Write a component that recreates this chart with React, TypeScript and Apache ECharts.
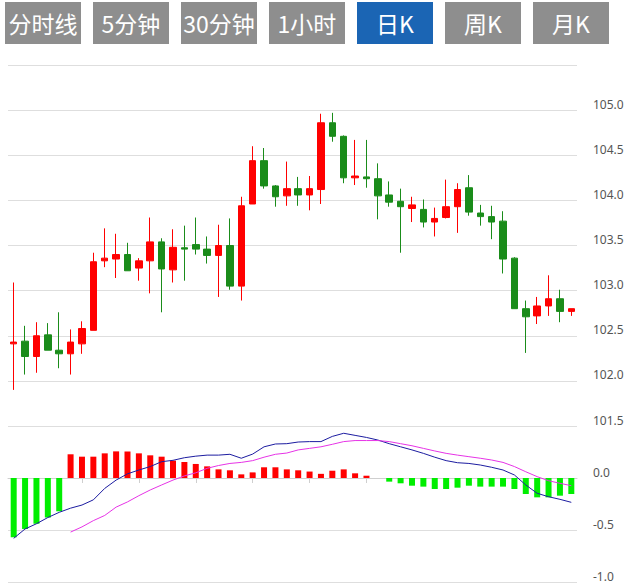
import React, { useEffect, useRef } from "react";
import * as echarts from "echarts";

const buttonLabels = ["分时线", "5分钟", "30分钟", "1小时", "日K", "周K", "月K"];
const activeButton = 4;

// [open, close, low, high]
const ohlc: number[][] = [
  [102.41, 102.43, 101.9, 103.09],
  [102.44, 102.27, 102.07, 102.61],
  [102.27, 102.5, 102.09, 102.65],
  [102.51, 102.34, 102.34, 102.64],
  [102.34, 102.3, 102.14, 102.76],
  [102.3, 102.43, 102.07, 102.57],
  [102.41, 102.58, 102.3, 102.66],
  [102.56, 103.32, 102.56, 103.42],
  [103.33, 103.36, 103.26, 103.69],
  [103.35, 103.4, 103.14, 103.63],
  [103.4, 103.22, 103.22, 103.53],
  [103.25, 103.33, 103.11, 103.36],
  [103.33, 103.54, 102.97, 103.81],
  [103.54, 103.24, 102.76, 103.58],
  [103.23, 103.48, 103.09, 103.68],
  [103.475, 103.46, 103.11, 103.72],
  [103.51, 103.46, 103.4, 103.81],
  [103.46, 103.39, 103.3, 103.6],
  [103.39, 103.5, 102.93, 103.73],
  [103.5, 103.05, 103.01, 103.8],
  [103.05, 103.94, 102.89, 104.04],
  [103.96, 104.44, 103.96, 104.6],
  [104.44, 104.16, 104.13, 104.58],
  [104.16, 104.04, 103.93, 104.17],
  [104.05, 104.13, 103.94, 104.43],
  [104.13, 104.06, 103.94, 104.26],
  [104.06, 104.13, 103.89, 104.27],
  [104.12, 104.86, 103.96, 104.96],
  [104.86, 104.71, 104.65, 104.97],
  [104.71, 104.25, 104.19, 104.72],
  [104.25, 104.27, 104.17, 104.67],
  [104.26, 104.24, 104.14, 104.67],
  [104.24, 104.05, 103.79, 104.41],
  [104.06, 103.98, 103.93, 104.21],
  [103.99, 103.93, 103.42, 104.13],
  [103.91, 103.95, 103.76, 104.04],
  [103.9, 103.76, 103.7, 104.01],
  [103.76, 103.8, 103.6, 103.92],
  [103.81, 103.93, 103.8, 104.23],
  [103.93, 104.12, 103.64, 104.19],
  [104.14, 103.87, 103.83, 104.28],
  [103.86, 103.82, 103.72, 103.95],
  [103.82, 103.76, 103.57, 103.94],
  [103.77, 103.35, 103.19, 103.88],
  [103.36, 102.8, 102.8, 103.37],
  [102.8, 102.71, 102.31, 102.89],
  [102.72, 102.83, 102.63, 102.93],
  [102.83, 102.91, 102.72, 103.17],
  [102.91, 102.77, 102.65, 103.01],
  [102.77, 102.8, 102.72, 102.8],
];

const macdHist = [
  -0.57, -0.49, -0.44, -0.38, -0.32, 0.228, 0.205, 0.205, 0.237, 0.256,
  0.256, 0.237, 0.218, 0.205, 0.167, 0.154, 0.135, 0.112, 0.083, 0.074,
  0.035, 0.054, 0.103, 0.103, 0.083, 0.074, 0.062, 0.04, 0.07, 0.083,
  0.045, 0.022, 0, -0.035, -0.051, -0.074, -0.083, -0.106, -0.106, -0.093,
  -0.074, -0.083, -0.083, -0.083, -0.106, -0.154, -0.186, -0.186, -0.17, -0.154,
];

const dif = [
  -0.58, -0.49, -0.44, -0.38, -0.33, -0.29, -0.26, -0.21, -0.1, -0.02,
  0.04, 0.077, 0.11, 0.157, 0.17, 0.195, 0.21, 0.22, 0.22, 0.228,
  0.19, 0.23, 0.3, 0.327, 0.33, 0.346, 0.35, 0.35, 0.4, 0.43,
  0.41, 0.39, 0.365, 0.33, 0.3, 0.27, 0.237, 0.2, 0.167, 0.147,
  0.14, 0.125, 0.103, 0.077, 0.029, -0.067, -0.147, -0.18, -0.205, -0.234,
];

const dea = [
  null, null, null, null, null, -0.52, -0.47, -0.41, -0.36, -0.28,
  -0.23, -0.17, -0.115, -0.067, -0.02, 0.02, 0.05, 0.093, 0.12, 0.14,
  0.15, 0.167, 0.2, 0.228, 0.24, 0.27, 0.285, 0.3, 0.324, 0.35,
  0.36, 0.36, 0.36, 0.35, 0.33, 0.31, 0.285, 0.26, 0.237, 0.22,
  0.205, 0.19, 0.173, 0.15, 0.11, 0.06, 0.013, -0.026, -0.051, -0.074,
];

const categories = ohlc.map((_, i) => String(i + 1));

export default function App() {
  const ref = useRef<HTMLDivElement>(null);
  useEffect(() => {
    if (!ref.current) return;
    const chart = echarts.init(ref.current, null, { renderer: "svg" });
    const gridLine = { show: true, lineStyle: { color: "#dedede", width: 1 } };
    const labelStyle = {
      color: "#555",
      fontSize: 12,
      fontFamily: "Noto Sans",
      margin: 16,
      verticalAlign: "bottom" as const,
      formatter: (v: number) => v.toFixed(1),
      showMaxLabel: false,
      showMinLabel: true,
    };
    const graphic: any[] = [];
    buttonLabels.forEach((t, i) => {
      const x = 5 + i * 88;
      graphic.push({
        type: "rect",
        shape: { x, y: 2, width: 76, height: 42 },
        style: { fill: i === activeButton ? "#1b65b4" : "#8e8e8e" },
      });
      graphic.push({
        type: "text",
        style: {
          text: t,
          x: x + 38,
          y: 23,
          align: "center",
          verticalAlign: "middle",
          fill: "#ffffff",
          fontSize: 23,
          fontFamily: "Noto Sans CJK SC",
        },
      });
    });
    chart.setOption({
      animation: false,
      backgroundColor: "#ffffff",
      graphic,
      grid: [
        { left: 8, right: 56, top: 65, height: 361 },
        { left: 8, right: 56, top: 426, height: 156 },
      ],
      xAxis: [
        {
          type: "category",
          gridIndex: 0,
          data: categories,
          boundaryGap: true,
          axisLine: { show: false },
          axisTick: { show: false },
          axisLabel: { show: false },
          splitLine: { show: false },
        },
        {
          type: "category",
          gridIndex: 1,
          data: categories,
          boundaryGap: true,
          axisLine: { show: true, lineStyle: { color: "#cfcfcf" } },
          axisTick: {
            show: true,
            alignWithLabel: true,
            interval: (i: number) => i % 5 === 1,
            length: 5,
            lineStyle: { color: "#cfcfcf" },
          },
          axisLabel: { show: false },
          splitLine: { show: false },
        },
      ],
      yAxis: [
        {
          type: "value",
          gridIndex: 0,
          position: "right",
          min: 101.5,
          max: 105.5,
          interval: 0.5,
          axisLine: { show: false },
          axisTick: { show: false },
          axisLabel: labelStyle,
          splitLine: gridLine,
        },
        {
          type: "value",
          gridIndex: 1,
          position: "right",
          min: -1,
          max: 0.5,
          interval: 0.5,
          axisLine: { show: false },
          axisTick: { show: false },
          axisLabel: labelStyle,
          splitLine: gridLine,
        },
      ],
      series: [
        {
          type: "candlestick",
          xAxisIndex: 0,
          yAxisIndex: 0,
          data: ohlc,
          barWidth: 7,
          itemStyle: {
            color: "#ff0000",
            color0: "#1a8c1a",
            borderColor: "#ff0000",
            borderColor0: "#1a8c1a",
            borderWidth: 1,
          },
        },
        {
          type: "bar",
          xAxisIndex: 1,
          yAxisIndex: 1,
          barWidth: 6,
          data: macdHist.map((v) => ({
            value: v,
            itemStyle: { color: v >= 0 ? "#ff0000" : "#00ee00" },
          })),
        },
        {
          type: "line",
          xAxisIndex: 1,
          yAxisIndex: 1,
          data: dif,
          symbol: "none",
          lineStyle: { color: "#1c1ca0", width: 1 },
        },
        {
          type: "line",
          xAxisIndex: 1,
          yAxisIndex: 1,
          data: dea,
          symbol: "none",
          lineStyle: { color: "#e633e6", width: 1 },
        },
      ],
    });
    return () => chart.dispose();
  }, []);
  return (
    <div
      ref={ref}
      style={{ position: "absolute", left: 0, top: 0, width: 633, height: 583 }}
    />
  );
}
